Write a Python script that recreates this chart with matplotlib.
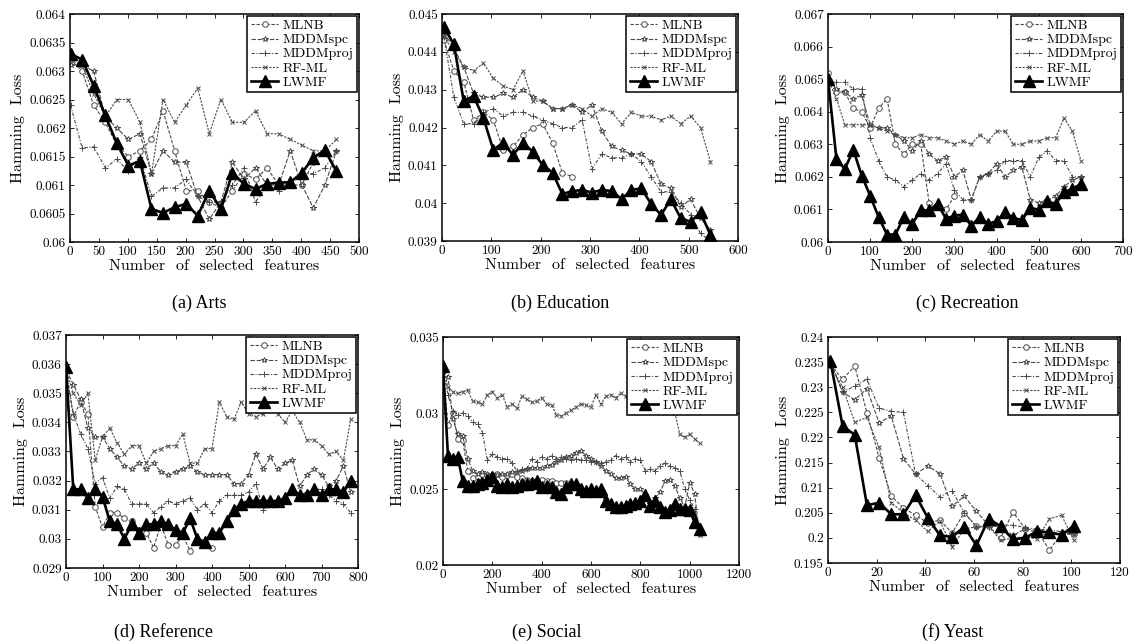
import numpy as np
import matplotlib
matplotlib.use('Agg')
import matplotlib.pyplot as plt
from matplotlib.ticker import FuncFormatter, MultipleLocator

plt.rcParams['font.family'] = ['cmr10', 'DejaVu Serif']
plt.rcParams['axes.formatter.use_mathtext'] = True

methods = ['MLNB', 'MDDMspc', 'MDDMproj', 'RF-ML', 'LWMF']

# (a) Arts
x_arts = np.arange(1, 462, 20)
arts_mlnb = [0.0632, 0.0630, 0.0624, 0.0621, 0.0617, 0.0615, 0.0616, 0.0618, 0.0623, 0.0616, 0.0609, 0.0609,
             0.0607, 0.0606, 0.0609, 0.0612, 0.0611, 0.0613, 0.0610, 0.0610, 0.0610, 0.0614, 0.0616, 0.0612]
arts_spc = [0.0631, 0.0631, 0.0630, 0.0622, 0.0620, 0.0618, 0.0619, 0.0612, 0.0616, 0.0614, 0.0614, 0.0608,
            0.0604, 0.0607, 0.0614, 0.0611, 0.0613, 0.0610, 0.0610, 0.0616, 0.0610, 0.0606, 0.0610, 0.0616]
arts_proj = [0.0624, 0.06165, 0.06167, 0.0613, 0.06145, 0.06125, 0.0615, 0.0608, 0.06095, 0.06095, 0.0611, 0.0608,
             0.0607, 0.0607, 0.0610, 0.0613, 0.0607, 0.0610, 0.0609, 0.0610, 0.0612, 0.0612, 0.0613, 0.0616]
arts_rfml = [0.0632, 0.0631, 0.0626, 0.0622, 0.0625, 0.0625, 0.0621, 0.0612, 0.0625, 0.0621, 0.0624, 0.0627,
             0.0619, 0.0625, 0.0621, 0.0621, 0.0623, 0.0619, 0.0619, 0.0618, 0.0617, 0.0616, 0.0616, 0.0618]
arts_lwmf = [0.0633, 0.0632, 0.06274, 0.06222, 0.06173, 0.06134, 0.06142, 0.06058, 0.06051, 0.06061, 0.06067, 0.06046,
             0.06090, 0.06058, 0.06121, 0.06102, 0.06093, 0.06102, 0.06104, 0.06105, 0.06121, 0.06148, 0.06161, 0.06124]

# (b) Education
x_edu = np.arange(4, 545, 20)
edu_mlnb = [0.0443, 0.0435, 0.0432, 0.0422, 0.0424, 0.0422, 0.0414, 0.0415, 0.0418, 0.0420, 0.0421, 0.0416,
            0.0408, 0.0407]
edu_spc = [0.0445, 0.0441, 0.0436, 0.0429, 0.0428, 0.0428, 0.0429, 0.0428, 0.0430, 0.0428, 0.0427, 0.0425,
           0.0425, 0.0426, 0.0424, 0.0426, 0.0419, 0.0415, 0.0414, 0.0413, 0.0413, 0.0411, 0.0405, 0.0404,
           0.0399, 0.0401, 0.0396, 0.0393]
edu_proj = [0.0444, 0.0428, 0.0421, 0.0421, 0.0424, 0.0425, 0.0423, 0.0424, 0.0424, 0.0423, 0.0422, 0.0421,
            0.0420, 0.0420, 0.0422, 0.0409, 0.0413, 0.0412, 0.0412, 0.0413, 0.0411, 0.0407, 0.0403, 0.0403,
            0.0400, 0.0397, 0.0392, 0.0390]
edu_rfml = [0.0444, 0.0440, 0.0436, 0.0435, 0.0437, 0.0433, 0.0431, 0.0430, 0.0435, 0.0427, 0.0427, 0.0425,
            0.0425, 0.0426, 0.0425, 0.0423, 0.0425, 0.0424, 0.0421, 0.0424, 0.0423, 0.0423, 0.0422, 0.0423,
            0.0421, 0.0423, 0.0420, 0.0411]
edu_lwmf = [0.04465, 0.0442, 0.0427, 0.04283, 0.04225, 0.04141, 0.04160, 0.04127, 0.04160, 0.04136, 0.04101,
            0.04081, 0.04024, 0.04032, 0.04035, 0.04028, 0.04035, 0.04032, 0.04011, 0.04035, 0.04039, 0.03998,
            0.03969, 0.04010, 0.03960, 0.03951, 0.03976, 0.03916]

# (c) Recreation
x_rec = np.arange(0, 601, 20)
rec_mlnb = [0.0652, 0.0646, 0.0646, 0.0641, 0.0640, 0.0635, 0.0641, 0.0644, 0.0630, 0.0627, 0.0630, 0.0630,
            0.0612, 0.0611, 0.0610, 0.0614]
rec_spc = [0.0650, 0.0647, 0.0646, 0.0644, 0.0645, 0.0636, 0.0635, 0.0635, 0.0633, 0.0631, 0.0628, 0.0631,
           0.0627, 0.0625, 0.0626, 0.0620, 0.0622, 0.0613, 0.0620, 0.0621, 0.0624, 0.0620, 0.0622, 0.0623,
           0.0613, 0.0612, 0.0613, 0.0614, 0.0617, 0.0619, 0.0620]
rec_proj = [0.0650, 0.0649, 0.0649, 0.0647, 0.0647, 0.0632, 0.0625, 0.0620, 0.0619, 0.0617, 0.0619, 0.0621,
            0.0619, 0.0621, 0.0624, 0.0616, 0.0613, 0.0613, 0.0620, 0.0621, 0.0622, 0.0625, 0.0625, 0.0625,
            0.0620, 0.0626, 0.0628, 0.0625, 0.0625, 0.0620, 0.0620]
rec_rfml = [0.0650, 0.0644, 0.0636, 0.0636, 0.0636, 0.0636, 0.0635, 0.0634, 0.0633, 0.0632, 0.0632, 0.0633,
            0.0632, 0.0632, 0.0631, 0.0630, 0.0631, 0.0630, 0.0633, 0.0631, 0.0634, 0.0634, 0.0630, 0.0630,
            0.0631, 0.0631, 0.0632, 0.0632, 0.0638, 0.0634, 0.0625]
rec_lwmf = [0.06501, 0.06255, 0.06224, 0.06283, 0.06204, 0.06142, 0.06077, 0.06023, 0.06023, 0.06077, 0.06056,
            0.06097, 0.06097, 0.06118, 0.06071, 0.06081, 0.06084, 0.06050, 0.06077, 0.06056, 0.06064, 0.06091,
            0.06074, 0.06067, 0.06105, 0.06099, 0.06125, 0.06117, 0.06153, 0.06163, 0.06178]

# (d) Reference
x_ref = np.arange(0, 781, 20)
ref_mlnb = [0.0358, 0.0342, 0.0347, 0.0343, 0.0311, 0.0304, 0.0309, 0.0309, 0.0307, 0.0306, 0.0303, 0.0302,
            0.0297, 0.0305, 0.0298, 0.0298, 0.0301, 0.0296, 0.0300, 0.0299, 0.0297]
ref_spc = [0.0358, 0.0353, 0.0348, 0.0338, 0.0335, 0.0335, 0.0331, 0.0328, 0.0325, 0.0324,
           0.0326, 0.0324, 0.0326, 0.0323, 0.0322, 0.0323, 0.0324, 0.0325, 0.0323, 0.0322,
           0.0322, 0.0322, 0.0322, 0.0319, 0.0319, 0.0322, 0.0329, 0.0324, 0.0328, 0.0324,
           0.0326, 0.0327, 0.0318, 0.0322, 0.0324, 0.0322, 0.0318, 0.0320, 0.0325, 0.0316]
ref_proj = [0.0358, 0.0343, 0.0336, 0.0331, 0.0319, 0.0321, 0.0314, 0.0318, 0.0317, 0.0312,
            0.0312, 0.0312, 0.0309, 0.0311, 0.0313, 0.0312, 0.0313, 0.0314, 0.0310, 0.0312,
            0.0309, 0.0313, 0.0315, 0.0315, 0.0315, 0.0316, 0.0319, 0.0310, 0.0313, 0.0313,
            0.0314, 0.0316, 0.0315, 0.0316, 0.0317, 0.0317, 0.0315, 0.0313, 0.0312, 0.0309]
ref_rfml = [0.0358, 0.0350, 0.0346, 0.0350, 0.0327, 0.0335, 0.0338, 0.0333, 0.0329, 0.0332,
            0.0332, 0.0326, 0.0330, 0.0331, 0.0332, 0.0332, 0.0336, 0.0326, 0.0326, 0.0331,
            0.0331, 0.0347, 0.0342, 0.0341, 0.0347, 0.0343, 0.0342, 0.0343, 0.0345, 0.0343,
            0.0340, 0.0344, 0.0340, 0.0334, 0.0334, 0.0332, 0.0329, 0.0330, 0.0327, 0.0341]
ref_lwmf = [0.0359, 0.0317, 0.0317, 0.0314, 0.0317, 0.03145, 0.0306, 0.0305, 0.0300, 0.0305,
            0.0302, 0.0305, 0.0305, 0.0306, 0.0305, 0.0303, 0.0302, 0.0307, 0.0300, 0.0299,
            0.0302, 0.0302, 0.0306, 0.0310, 0.0312, 0.0313, 0.0313, 0.0313, 0.0313, 0.0313,
            0.0314, 0.0317, 0.0315, 0.0315, 0.0317, 0.0315, 0.0317, 0.0317, 0.0316, 0.0320]

# (e) Social
x_soc = np.arange(0, 1041, 20)
soc_mlnb = [0.0330, 0.0292, 0.0300, 0.0283, 0.0282, 0.0262, 0.0257, 0.0258, 0.0260, 0.0259, 0.0259, 0.0260,
            0.0258, 0.0259, 0.0260, 0.0258, 0.0257, 0.0256, 0.0255, 0.0255, 0.0256, 0.0255, 0.0255, 0.0254,
            0.0254, 0.0254]
soc_spc = [0.0328, 0.0324, 0.0296, 0.0286, 0.0285, 0.0270, 0.0262, 0.0260, 0.0261, 0.0260,
           0.0260, 0.0259, 0.0260, 0.0260, 0.0261, 0.0261, 0.0262, 0.0263, 0.0264, 0.0264,
           0.0264, 0.0265, 0.0266, 0.0268, 0.0269, 0.0271, 0.0272, 0.0274, 0.0275, 0.0272,
           0.0270, 0.0268, 0.0265, 0.0262, 0.0260, 0.0257, 0.0257, 0.0258, 0.0253, 0.0250,
           0.0250, 0.0246, 0.0240, 0.0244, 0.0248, 0.0255, 0.0256, 0.0252, 0.0244, 0.0238,
           0.0254, 0.0247, 0.0220]
soc_proj = [0.0330, 0.0312, 0.0301, 0.0299, 0.0300, 0.0298, 0.0294, 0.0293, 0.0287, 0.0269,
            0.0273, 0.0271, 0.0270, 0.0270, 0.0267, 0.0262, 0.0263, 0.0263, 0.0270, 0.0268,
            0.0271, 0.0270, 0.0272, 0.0270, 0.0271, 0.0270, 0.0269, 0.0270, 0.0269, 0.0269,
            0.0268, 0.0268, 0.0267, 0.0268, 0.0269, 0.0272, 0.0270, 0.0271, 0.0268, 0.0270,
            0.0269, 0.0262, 0.0263, 0.0262, 0.0265, 0.0267, 0.0265, 0.0264, 0.0262, 0.0250,
            0.0243, 0.0237, 0.0224]
soc_rfml = [0.0331, 0.0317, 0.0314, 0.0313, 0.0314, 0.0315, 0.0308, 0.0307, 0.0306, 0.0312,
            0.0314, 0.0310, 0.0312, 0.0304, 0.0306, 0.0303, 0.0311, 0.0309, 0.0307, 0.0308,
            0.0310, 0.0306, 0.0305, 0.0299, 0.0298, 0.0300, 0.0302, 0.0304, 0.0306, 0.0305,
            0.0304, 0.0312, 0.0306, 0.0311, 0.0312, 0.0310, 0.0313, 0.0311, 0.0314, 0.0314,
            0.0311, 0.0309, 0.0304, 0.0306, 0.0303, 0.0300, 0.0301, 0.0300, 0.0286, 0.0284,
            0.0286, 0.0283, 0.0280]
soc_lwmf = [0.0331, 0.0272, 0.0270, 0.0271, 0.0255, 0.0252, 0.0252, 0.0253, 0.0254, 0.0256,
            0.0258, 0.0252, 0.0251, 0.0253, 0.0251, 0.0252, 0.0253, 0.0253, 0.0254, 0.0255,
            0.0251, 0.0252, 0.0251, 0.0248, 0.0247, 0.0251, 0.0253, 0.0253, 0.0250, 0.0249,
            0.0250, 0.0249, 0.0250, 0.0242, 0.0240, 0.0238, 0.0238, 0.0239, 0.0240, 0.0241,
            0.0242, 0.0246, 0.0239, 0.0242, 0.0238, 0.0235, 0.0236, 0.0240, 0.0237, 0.0237,
            0.0236, 0.0228, 0.0224]

# (f) Yeast
x_yeast = np.arange(1, 102, 5)
yeast_mlnb = [0.2345, 0.2316, 0.2342, 0.2249, 0.2160, 0.2083, 0.2060, 0.2045, 0.2030, 0.2035, 0.2010,
              0.2050, 0.2023, 0.2023, 0.2000, 0.2052, 0.2018, 0.2015, 0.1975, 0.2010, 0.2008]
yeast_spc = [0.2350, 0.2290, 0.2275, 0.2297, 0.2229, 0.2243, 0.2158, 0.2127, 0.2143, 0.2128, 0.2063,
             0.2083, 0.2053, 0.2025, 0.2022, 0.2005, 0.2018, 0.2010, 0.2005, 0.2008, 0.2007]
yeast_proj = [0.2350, 0.2291, 0.2302, 0.2316, 0.2258, 0.2252, 0.2250, 0.2127, 0.2104, 0.2082, 0.2094,
              0.2050, 0.2022, 0.2022, 0.2025, 0.2025, 0.2021, 0.2017, 0.2016, 0.2012, 0.2010]
yeast_rfml = [0.2345, 0.2300, 0.2230, 0.2240, 0.2180, 0.2070, 0.2050, 0.2035, 0.2013, 0.2033, 0.1982,
              0.2018, 0.2022, 0.2023, 0.1995, 0.2000, 0.2002, 0.1998, 0.2038, 0.2045, 0.1995]
yeast_lwmf = [0.2352, 0.2223, 0.2205, 0.2065, 0.2070, 0.2047, 0.2047, 0.2085, 0.2040, 0.2005, 0.2002,
              0.2022, 0.1985, 0.2038, 0.2023, 0.1997, 0.2000, 0.2013, 0.2011, 0.2006, 0.2024]

captions = ['(a) Arts', '(b) Education', '(c) Recreation', '(d) Reference', '(e) Social', '(f) Yeast']

panels = [
    (x_arts, [arts_mlnb, arts_spc, arts_proj, arts_rfml, arts_lwmf], (0, 500, 50), (0.06, 0.064, 0.0005)),
    (x_edu, [edu_mlnb, edu_spc, edu_proj, edu_rfml, edu_lwmf], (0, 600, 100), (0.039, 0.045, 0.001)),
    (x_rec, [rec_mlnb, rec_spc, rec_proj, rec_rfml, rec_lwmf], (0, 700, 100), (0.06, 0.067, 0.001)),
    (x_ref, [ref_mlnb, ref_spc, ref_proj, ref_rfml, ref_lwmf], (0, 800, 100), (0.029, 0.037, 0.001)),
    (x_soc, [soc_mlnb, soc_spc, soc_proj, soc_rfml, soc_lwmf], (0, 1200, 200), (0.02, 0.035, 0.005)),
    (x_yeast, [yeast_mlnb, yeast_spc, yeast_proj, yeast_rfml, yeast_lwmf], (0, 120, 20), (0.195, 0.24, 0.005)),
]

# axes boxes in pixels (left, right, top, bottom) of a 1140x644 figure
boxes = [(70, 359, 14, 242), (442, 738, 14, 241), (828, 1123, 14, 242),
         (66, 358, 335, 568), (443, 739, 337, 565), (828, 1120, 337, 563)]
caption_pos = [(199, 303), (560, 303), (967, 303), (163, 632), (547, 632), (953, 632)]

W, H = 1140, 644
gray = '#4a4a4a'
styles = [
    dict(marker='o', ls=(0, (3, 1.5)), ms=4, mfc='white'),
    dict(marker='*', ls=(0, (4, 1.5)), ms=4, mfc='white'),
    dict(marker='+', ls=(0, (3, 1.5, 1, 1.5)), ms=5, mfc='none'),
    dict(marker='x', ls=(0, (2, 1.2)), ms=3.5, mfc='none'),
]

fig = plt.figure(figsize=(W / 100, H / 100), dpi=100)

for i, (xs, series, (x0, x1, dx), (y0, y1, dy)) in enumerate(panels):
    l, r, t, b = boxes[i]
    ax = fig.add_axes([l / W, 1 - b / H, (r - l) / W, (b - t) / H])
    for name, ys, st in zip(methods[:4], series[:4], styles):
        ax.plot(xs[:len(ys)], ys, color=gray, lw=0.8, mec=gray, mew=0.7, label=name, **st)
    ax.plot(xs, series[4], color='black', lw=1.9, marker='^', ms=9, label='LWMF')

    ax.set_xlim(x0, x1)
    ax.set_ylim(y0, y1)
    ax.xaxis.set_major_locator(MultipleLocator(dx))
    ax.yaxis.set_major_locator(MultipleLocator(dy))
    ax.yaxis.set_major_formatter(FuncFormatter(lambda v, _: '%g' % round(v, 5)))
    ax.xaxis.set_major_formatter(FuncFormatter(lambda v, _: '%g' % v))
    ax.tick_params(direction='in', top=True, right=True, length=3, width=0.6, labelsize=9.5, pad=3)
    for s in ax.spines.values():
        s.set_linewidth(1.1)
    ax.set_xlabel('Number  of  selected  features', fontsize=11.5, labelpad=1)
    ax.set_ylabel('Hamming  Loss', fontsize=11.5, labelpad=3)

    leg = ax.legend(loc='upper right', fontsize=10, frameon=True, fancybox=False, edgecolor='black',
                    framealpha=1, borderpad=0.25, labelspacing=0.1, handlelength=2.0,
                    handletextpad=0.3, borderaxespad=0.15)
    leg.get_frame().set_linewidth(1.1)

    cx, cy = caption_pos[i]
    fig.text(cx / W, 1 - cy / H, captions[i], ha='center', va='center', fontsize=13,
             family=['Liberation Serif', 'DejaVu Serif'])

plt.savefig('out.png', dpi=100)
